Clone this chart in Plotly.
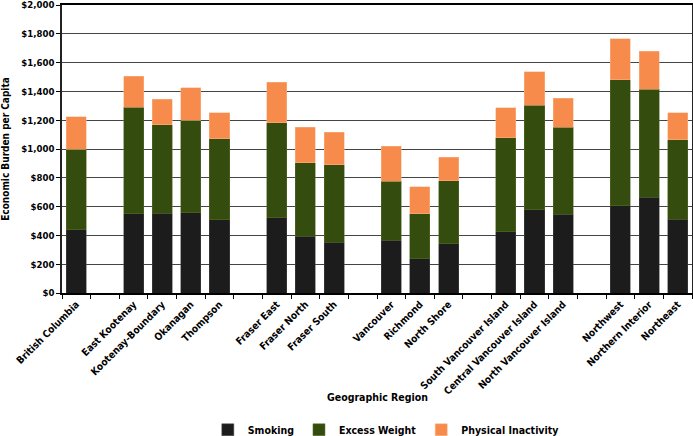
import plotly.graph_objects as go

regions = ["British Columbia", " ", "East Kootenay", "Kootenay-Boundary", "Okanagan", "Thompson", "  ",
           "Fraser East", "Fraser North", "Fraser South", "   ",
           "Vancouver", "Richmond", "North Shore", "    ",
           "South Vancouver Island", "Central Vancouver Island", "North Vancouver Island", "     ",
           "Northwest", "Northern Interior", "Northeast"]

smoking = [440, None, 550, 555, 559, 508, None, 522, 395, 354, None, 368, 238, 342, None,
           425, 578, 548, None, 606, 666, 513]
excess_weight = [560, None, 740, 613, 641, 562, None, 659, 509, 536, None, 409, 312, 437, None,
                 652, 726, 603, None, 874, 749, 551]
physical_inactivity = [223, None, 215, 178, 224, 183, None, 283, 247, 227, None, 243, 187, 164, None,
                       208, 231, 202, None, 286, 265, 187]

y_ticks = [0, 200, 400, 600, 800, 1000, 1200, 1400, 1600, 1800, 2000]
y_tick_labels = ["$0", "$200", "$400", "$600", "$800", "$1,000", "$1,200", "$1,400", "$1,600", "$1,800", "$2,000"]

FONT = "DejaVu Sans Condensed, sans-serif"

fig = go.Figure()
fig.add_trace(go.Bar(name="Smoking", x=regions, y=smoking, marker_color="#1c1c1c",
                     marker_line=dict(color="#4a4a4a", width=0.5)))
fig.add_trace(go.Bar(name="Excess Weight", x=regions, y=excess_weight, marker_color="#344c0e",
                     marker_line=dict(color="#5a7030", width=0.5)))
fig.add_trace(go.Bar(name="Physical Inactivity", x=regions, y=physical_inactivity, marker_color="#f68b4b",
                     marker_line=dict(color="#f9b88f", width=0.5)))

fig.update_layout(
    barmode="stack",
    bargap=0.3,
    width=693, height=436,
    margin=dict(l=62, r=1, t=5, b=143, autoexpand=False),
    plot_bgcolor="white", paper_bgcolor="white",
    font=dict(family=FONT, size=11, color="black"),
    legend=dict(orientation="h", x=0.514, xanchor="center", y=-0.475, yanchor="middle",
                font=dict(family=FONT, size=10.5, color="black", weight="bold"), traceorder="normal",
                itemwidth=30),
    showlegend=True,
)

fig.update_xaxes(
    type="category",
    tickangle=-45,
    tickson="boundaries",
    ticks="outside", ticklen=4, tickcolor="black",
    showline=True, linecolor="black", linewidth=1.5, mirror=True,
    tickfont=dict(family=FONT, size=10, color="black", weight="bold"),
    showgrid=False,
    automargin=False,
)
fig.update_yaxes(
    range=[0, 2000],
    tickvals=y_ticks,
    ticktext=y_tick_labels,
    ticks="outside", ticklen=4, tickcolor="black",
    ticklabeloverflow="allow",
    showline=True, linecolor="#222", linewidth=1.5, mirror=True,
    gridcolor="#444", gridwidth=1,
    tickfont=dict(family=FONT, size=9.5, color="black", weight="bold"),
    title=dict(text="<b>Economic Burden per Capita</b>", font=dict(family=FONT, size=10, color="black"),
               standoff=12),
    automargin=False,
)

fig.add_annotation(text="<b>Geographic Region</b>", xref="paper", yref="paper",
                   x=0.5, y=-0.361, xanchor="center", yanchor="middle", showarrow=False,
                   font=dict(family=FONT, size=10.5, color="black"))

fig.write_html("out.html", config={"displayModeBar": False},
               post_script="document.body.style.margin='0px';")
